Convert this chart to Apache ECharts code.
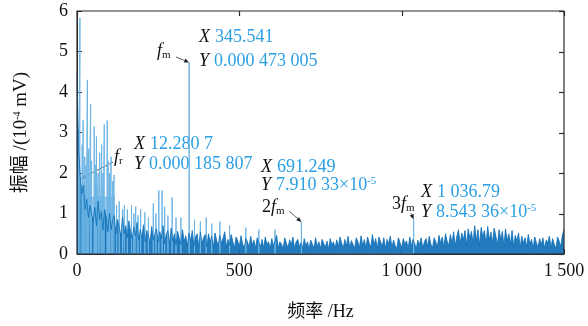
<!DOCTYPE html>
<html>
<head>
<meta charset="utf-8">
<script src="https://cdn.jsdelivr.net/npm/echarts@6/dist/echarts.min.js"></script>
<style>
  html, body { margin: 0; padding: 0; background: #fff; }
  #chart { width: 588px; height: 326px; }
</style>
</head>
<body>
<div id="chart"></div>
<script>
// frequency axis (Hz) and amplitude axis (10^-4 mV)
const xTicks = [0, 500, 1000, 1500];
const yTicks = [0, 1, 2, 3, 4, 5, 6];

// broadband noise floor, one value every 5 Hz from 0 to 1500 Hz
const noiseStep = 5;
const noise = [
  4.45, 2.6, 1.9, 1.5, 1.7, 1.1, 1.35, 0.9, 1.2, 1.0,
  0.8, 1.15, 0.7, 1.3, 0.85, 1.05, 0.6, 1.1, 0.9, 0.55,
  1.0, 0.6, 0.85, 0.95, 0.5, 0.85, 0.65, 0.45, 0.9, 0.5,
  0.7, 0.4, 0.82, 0.55, 0.38, 0.66, 0.45, 0.78, 0.35, 0.6,
  0.4, 0.72, 0.3, 0.58, 0.45, 0.28, 0.68, 0.35, 0.5, 0.62,
  0.3, 0.55, 0.38, 0.7, 0.26, 0.48, 0.58, 0.25, 0.64, 0.32,
  0.5, 0.22, 0.56, 0.38, 0.24, 0.6, 0.3, 0.45, 0.2, 0.52,
  0.32, 0.58, 0.2, 0.42, 0.5, 0.18, 0.55, 0.26, 0.4, 0.48,
  0.18, 0.5, 0.3, 0.44, 0.16, 0.52, 0.34, 0.2, 0.46, 0.26,
  0.4, 0.55, 0.17, 0.36, 0.22, 0.48, 0.3, 0.15, 0.42, 0.32,
  0.18, 0.45, 0.26, 0.14, 0.38, 0.3, 0.16, 0.44, 0.22, 0.34,
  0.14, 0.4, 0.28, 0.17, 0.36, 0.15, 0.42, 0.24, 0.3, 0.13,
  0.38, 0.2, 0.33, 0.46, 0.14, 0.3, 0.24, 0.13, 0.4, 0.26,
  0.15, 0.35, 0.22, 0.42, 0.13, 0.3, 0.36, 0.17, 0.28, 0.14,
  0.38, 0.2, 0.3, 0.13, 0.34, 0.24, 0.15, 0.4, 0.18, 0.3,
  0.13, 0.36, 0.26, 0.16, 0.32, 0.12, 0.38, 0.22, 0.3, 0.14,
  0.35, 0.18, 0.42, 0.27, 0.14, 0.36, 0.2, 0.44, 0.15, 0.33,
  0.24, 0.13, 0.4, 0.3, 0.16, 0.45, 0.2, 0.36, 0.14, 0.42,
  0.27, 0.16, 0.48, 0.22, 0.38, 0.13, 0.42, 0.3, 0.18, 0.4,
  0.14, 0.36, 0.25, 0.44, 0.16, 0.34, 0.21, 0.13, 0.4, 0.28,
  0.15, 0.38, 0.24, 0.32, 0.13, 0.42, 0.19, 0.36, 0.26, 0.14,
  0.34, 0.22, 0.4, 0.14, 0.3, 0.38, 0.18, 0.44, 0.24, 0.15,
  0.4, 0.3, 0.17, 0.46, 0.26, 0.42, 0.16, 0.5, 0.32, 0.2,
  0.48, 0.26, 0.55, 0.2, 0.44, 0.6, 0.24, 0.52, 0.34, 0.58,
  0.22, 0.62, 0.38, 0.56, 0.25, 0.7, 0.32, 0.6, 0.22, 0.66,
  0.42, 0.58, 0.24, 0.68, 0.34, 0.54, 0.27, 0.64, 0.44, 0.22,
  0.6, 0.36, 0.56, 0.2, 0.62, 0.32, 0.5, 0.24, 0.58, 0.18,
  0.46, 0.32, 0.52, 0.16, 0.44, 0.26, 0.4, 0.17, 0.48, 0.24,
  0.36, 0.14, 0.42, 0.28, 0.16, 0.38, 0.22, 0.4, 0.14, 0.34,
  0.28, 0.44, 0.16, 0.38, 0.24, 0.13, 0.42, 0.32, 0.18, 0.46, 0.6
];

// dense band of clipped low-frequency lines
const plateauFreq = [12, 117];
const plateauAmp = [1.4, 1.4];

// discrete spectral lines
const spikeFreq = [5, 9, 16, 19, 24, 28, 32, 36, 42, 45, 53, 57, 60, 65, 70, 76, 80, 84, 93, 96,
  100, 105, 110, 114, 122, 130, 140, 146, 155, 168, 175, 181, 188, 196, 209, 220, 235, 243,
  252, 262, 270, 280, 293, 305, 320, 345.541, 362, 380, 398, 415, 440, 470, 520, 560, 610,
  691.249, 1036.79];
const spikeAmp = [3.05, 5.83, 2.7, 3.3, 2.4, 2.2, 4.3, 2.6, 3.7, 2.3, 3.15, 2.2, 2.9, 2.0, 2.5, 2.7, 2.0, 3.2, 3.3, 2.3,
  2.0, 2.4, 1.8, 1.95, 1.2, 1.3, 1.1, 1.2, 1.1, 1.2, 1.0, 1.17, 0.95, 1.1, 1.03, 0.9, 1.25, 1.0,
  1.57, 1.57, 1.17, 0.95, 1.4, 0.9, 0.9, 4.73005, 0.85, 0.8, 0.9, 0.75, 0.8, 0.7, 0.65, 0.6, 0.6,
  0.791033, 0.854336];

// data tips: [freq, amp] of the marked points
const tipFr = [12.2807, 1.85807];
const tipFm = [345.541, 4.73005];
const tip2Fm = [691.249, 0.791033];
const tip3Fm = [1036.79, 0.854336];

const blueText = "#2a9fe3";
const lineDark = "#0b6db6";
const lineLight = "#6cb4e4";
const axisColor = "#2b2b30";
const serif = "'Liberation Serif', 'Times New Roman', serif";
const cjk = "'Liberation Serif', 'Noto Sans CJK SC', serif";

const xMin = xTicks[0], xMax = xTicks[xTicks.length - 1];
const yMin = yTicks[0], yMax = yTicks[yTicks.length - 1];

const noiseData = noise.map((v, i) => [i * noiseStep, v]);
const spikeData = [];
spikeFreq.forEach((f, i) => {
  spikeData.push([f, 0], [f, spikeAmp[i]], [f, 0]);
});
const plateauData = plateauFreq.map((f, i) => [f, plateauAmp[i]]);
// plot box outline, from the axis ranges
const frameData = [[xMin, yMin], [xMin, yMax], [xMax, yMax], [xMax, yMin], [xMin, yMin]];

const fmtHz = v => (v >= 1000 ? String(v).replace(/(\d)(\d{3})$/, "$1 $2") : String(v));

const axisCommon = {
  type: "value",
  axisLine: { show: true, onZero: false, lineStyle: { color: axisColor, width: 1 } },
  axisTick: { show: true, inside: true, length: 5, lineStyle: { color: axisColor, width: 1 } },
  splitLine: { show: false }
};

function rs(o) {
  // graphic text needs fill, keep color too
  return Object.assign({ fill: o.color }, o);
}
const richTip = {
  x: rs({ fontFamily: serif, fontStyle: "italic", fontSize: 18, color: "#111", padding: [0, 5, 0, 0] }),
  v: rs({ fontFamily: serif, fontSize: 18, color: blueText }),
  sup: rs({ fontFamily: serif, fontSize: 11, color: blueText, verticalAlign: "top", lineHeight: 12 }),
  i: rs({ fontFamily: serif, fontStyle: "italic", fontSize: 18, color: "#111" }),
  n: rs({ fontFamily: serif, fontSize: 18, color: "#111" }),
  sub: rs({ fontFamily: serif, fontSize: 11, color: "#111", padding: [8, 0, 0, 0] })
};

const chart = echarts.init(document.getElementById("chart"));
const option = {
  animation: false,
  grid: { left: 77, right: 24, top: 11, bottom: 71 },
  xAxis: Object.assign({}, axisCommon, {
    min: xMin, max: xMax, interval: 500,
    axisLabel: { color: "#111", fontFamily: serif, fontSize: 18, margin: 8, formatter: fmtHz },
    name: "频率 /Hz", nameLocation: "middle", nameGap: 49,
    nameTextStyle: { color: "#111", fontFamily: cjk, fontSize: 18 }
  }),
  yAxis: Object.assign({}, axisCommon, {
    min: yMin, max: yMax, interval: 1,
    axisLabel: { color: "#111", fontFamily: serif, fontSize: 18, margin: 9 },
    name: "{n|振幅 /(10}{s|-4}{n| mV)}", nameLocation: "middle", nameGap: 46, nameRotate: 90,
    nameTextStyle: {
      rich: {
        n: { color: "#111", fontFamily: cjk, fontSize: 19 },
        s: { color: "#111", fontFamily: serif, fontSize: 10, verticalAlign: "top", lineHeight: 10 }
      }
    }
  }),
  series: [
    {
      type: "line", data: plateauData, symbol: "none",
      lineStyle: { color: lineLight, width: 1 },
      areaStyle: { color: "#8fc5ea", opacity: 0.9 }
    },
    {
      type: "line", data: spikeData, symbol: "none",
      lineStyle: { color: lineLight, width: 1 }
    },
    {
      type: "line", data: noiseData, symbol: "none",
      lineStyle: { color: lineDark, width: 0.8 },
      areaStyle: { color: lineDark, opacity: 0.9 }
    },
    {
      type: "line", data: frameData, symbol: "none", clip: false, z: 10,
      lineStyle: { color: axisColor, width: 1.2 }
    }
  ]
};
chart.setOption(option);

const px = p => chart.convertToPixel({ xAxisIndex: 0, yAxisIndex: 0 }, p);

// inward ticks on the top and right edges
function boxTicks() {
  const els = [];
  const T = px([xMin, yMax])[1], R = px([xMax, yMin])[0];
  xTicks.forEach(t => {
    const x = Math.round(px([t, yMax])[0]) + 0.5;
    els.push({ type: "line", z: 50, shape: { x1: x, y1: T, x2: x, y2: T + 5 }, style: { stroke: axisColor, lineWidth: 1.2 } });
  });
  yTicks.forEach(t => {
    const y = Math.round(px([xMax, t])[1]) + 0.5;
    els.push({ type: "line", z: 50, shape: { x1: R, y1: y, x2: R - 5, y2: y }, style: { stroke: axisColor, lineWidth: 1.2 } });
  });
  return els;
}

// annotation arrows pointing at the data tips
function arrow(from, tip) {
  const to = px(tip);
  const dx = to[0] - from[0], dy = to[1] - from[1];
  const len = Math.sqrt(dx * dx + dy * dy);
  const ux = dx / len, uy = dy / len;
  const hl = 5, hw = 2.2;
  const bx = to[0] - ux * hl, by = to[1] - uy * hl;
  return [
    { type: "line", shape: { x1: from[0], y1: from[1], x2: bx, y2: by }, style: { stroke: "#333", lineWidth: 0.8 } },
    { type: "polygon", shape: { points: [to, [bx - uy * hw, by + ux * hw], [bx + uy * hw, by - ux * hw]] }, style: { fill: "#222" } }
  ];
}

function label(x, y, text) {
  return { type: "text", left: x, top: y, style: { text: text, rich: richTip } };
}

const graphics = [].concat(
  boxTicks(),
  arrow([176, 57], tipFm),
  arrow([113, 162], tipFr),
  arrow([289, 211], tip2Fm),
  arrow([411, 213], tip3Fm),
  [
    label(157, 42, "{i|f}{sub|m}"),
    label(199, 28, "{x|X}{v|345.541}"),
    label(199, 52, "{x|Y}{v|0.000 473 005}"),
    label(114, 148, "{i|f}{sub|r}"),
    label(134, 135, "{x|X}{v|12.280 7}"),
    label(134, 155, "{x|Y}{v|0.000 185 807}"),
    label(261, 158, "{x|X}{v|691.249}"),
    label(261, 176, "{x|Y}{v|7.910 33×10}{sup|-5}"),
    label(262, 198, "{n|2}{i|f}{sub|m}"),
    label(392, 195, "{n|3}{i|f}{sub|m}"),
    label(421, 183, "{x|X}{v|1 036.79}"),
    label(421, 203, "{x|Y}{v|8.543 36×10}{sup|-5}")
  ]
);
chart.setOption({ graphic: graphics });
</script>
</body>
</html>
